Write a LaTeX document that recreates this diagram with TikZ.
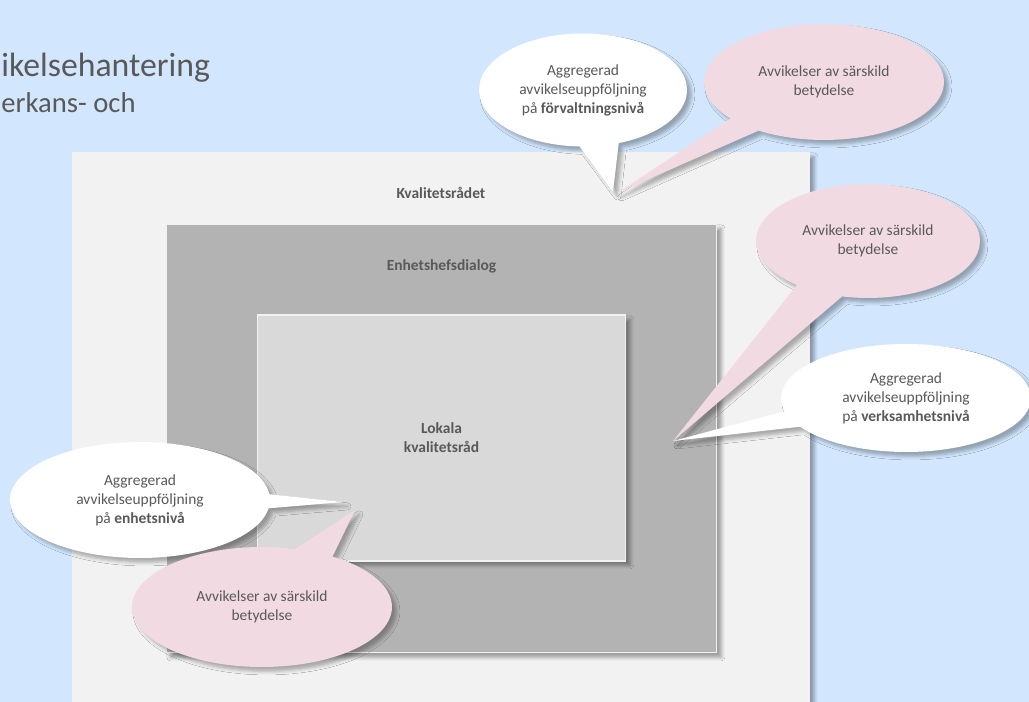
\documentclass[tikz,border=0pt]{standalone}
\usepackage{fontspec}
\setmainfont{Carlito}
\usetikzlibrary{positioning, shapes.callouts, shadows.blur}
\definecolor{bgBlue}{RGB}{210,231,254}
\definecolor{outerGray}{RGB}{242,242,242}
\definecolor{midGray}{RGB}{179,179,179}
\definecolor{innerGray}{RGB}{217,217,217}
\definecolor{calloutPink}{RGB}{242,218,226}
\definecolor{textGray}{RGB}{89,89,89}
\tikzset{
	every text node part/.style= {
		align=center
	},
	level/.style= {
		rectangle,
		draw=white!90!gray,
		line width=0.6pt,
		inner sep=0pt,
		blur shadow={shadow xshift=2.5pt, shadow yshift=-2.5pt, shadow blur radius=2pt, shadow opacity=35}
	},
	levelname/.style= {
		text=textGray,
		font=\fontsize{8.8}{10.8}\selectfont\bfseries
	},
	bubble/.style= {
		ellipse callout,
		inner sep=0pt,
		text=textGray,
		font=\fontsize{8.8}{10.8}\selectfont,
		blur shadow={shadow xshift=2.5pt, shadow yshift=-2.5pt, shadow blur radius=2pt, shadow opacity=30}
	},
	summary/.style= {
		bubble,
		fill=white
	},
	special/.style= {
		bubble,
		fill=calloutPink
	},
	heading/.style= {
		text=textGray,
		inner sep=0pt,
		anchor=base west
	}
}

\begin{document}
\begin{tikzpicture}[x=0.02cm, y=-0.02cm]

	\useasboundingbox (0,0) rectangle (1029,702);
	\clip (0,0) rectangle (1029,702);
	\fill[bgBlue] (0,0) rectangle (1029,702);

	\node (titleA)[heading, font=\fontsize{19.2}{22}\selectfont] at (1,77) {ikelsehantering};
	\node (titleB)[heading, font=\fontsize{16.3}{19}\selectfont] at (1,113) {erkans- och};

	% nested levels
	\node (kvalitetsradet)[level, fill=outerGray, minimum width=14.76cm, minimum height=11.2cm] at (441,432) {};
	\node (kvalitetLbl)[levelname, below=17pt of kvalitetsradet.north] {Kvalitetsrådet};

	\node (enhetshef)[level, fill=midGray, minimum width=11.02cm, minimum height=8.58cm] at (441.5,438.5) {};
	\node (enhetshefLbl)[levelname, below=17pt of enhetshef.north] {Enhetshefsdialog};

	\node (lokala)[level, fill=innerGray, minimum width=7.38cm, minimum height=4.92cm] at (441.5,438) {};
	\node (lokalaLbl)[levelname] at (lokala) {Lokala\\kvalitetsråd};

	% pointer tips
	\coordinate (tipForv) at (613,192);
	\coordinate (tipForvSpec) at (617,193);
	\coordinate (tipVerk) at (673,441);
	\coordinate (tipEnhet) at (343,502);
	\coordinate (tipEnhetSpec) at (355,510);

	% callouts
	\node (forvaltning)[summary, minimum width=4.16cm, minimum height=2.26cm, callout pointer arc=22, callout absolute pointer={(tipForv)}] at (583,90) {Aggregerad\\avvikelseuppföljning\\på \textbf{förvaltningsnivå}};
	\node (forvSpecial)[special, minimum width=4.8cm, minimum height=2.32cm, callout pointer arc=18, callout absolute pointer={(tipForvSpec)}] at (824,82) {Avvikelser av särskild\\betydelse};

	\node (verkSpecial)[special, minimum width=4.48cm, minimum height=2.28cm, callout pointer arc=26, callout absolute pointer={(tipVerk)}] at (868,241) {Avvikelser av särskild\\betydelse};
	\node (verksamhet)[summary, minimum width=5.0cm, minimum height=2.16cm, callout pointer arc=18, callout absolute pointer={(tipVerk)}] at (906,398) {Aggregerad\\avvikelseuppföljning\\på \textbf{verksamhetsnivå}};

	\node (enhet)[summary, minimum width=5.2cm, minimum height=2.32cm, callout pointer arc=14, callout absolute pointer={(tipEnhet)}] at (140,500) {Aggregerad\\avvikelseuppföljning\\på \textbf{enhetsnivå}};
	\node (enhetSpecial)[special, minimum width=5.2cm, minimum height=2.4cm, callout pointer arc=18, callout absolute pointer={(tipEnhetSpec)}] at (262,607) {Avvikelser av särskild\\betydelse};

\end{tikzpicture}
\end{document}
